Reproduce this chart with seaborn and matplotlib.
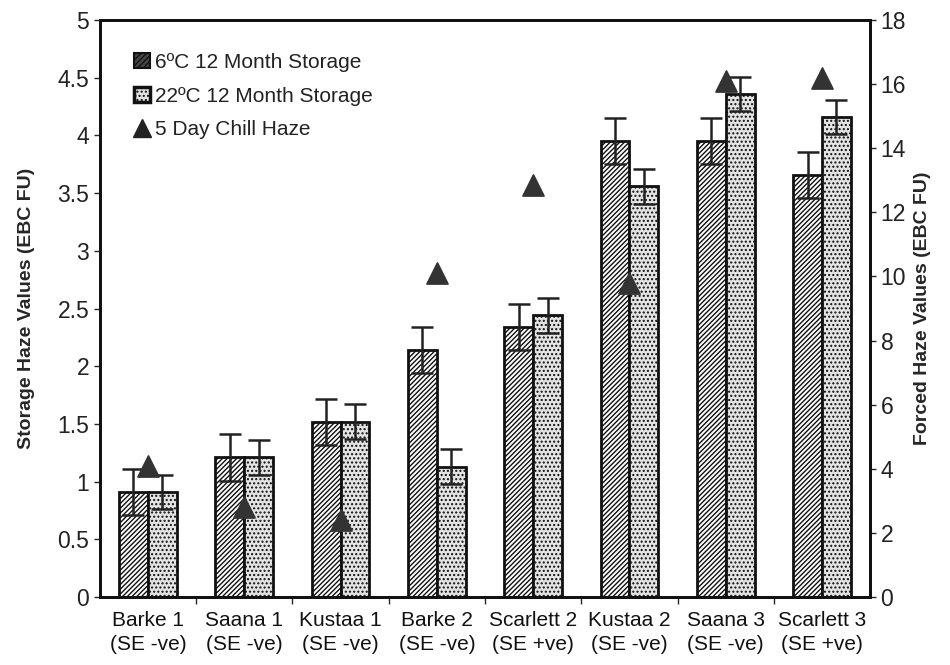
import matplotlib
matplotlib.use("Agg")
import matplotlib.pyplot as plt
import seaborn as sns
import pandas as pd
import numpy as np
from matplotlib.patches import Patch
from matplotlib.lines import Line2D

categories = ["Barke 1\n(SE -ve)", "Saana 1\n(SE -ve)", "Kustaa 1\n(SE -ve)", "Barke 2\n(SE -ve)",
              "Scarlett 2\n(SE +ve)", "Kustaa 2\n(SE -ve)", "Saana 3\n(SE -ve)", "Scarlett 3\n(SE +ve)"]
storage_6c = [0.91, 1.21, 1.52, 2.14, 2.34, 3.95, 3.95, 3.66]
storage_6c_err = [0.2, 0.2, 0.2, 0.2, 0.2, 0.2, 0.2, 0.2]
storage_22c = [0.91, 1.21, 1.52, 1.13, 2.44, 3.56, 4.36, 4.16]
storage_22c_err = [0.15, 0.15, 0.15, 0.15, 0.15, 0.15, 0.15, 0.15]
chill_haze = [4.1, 2.8, 2.4, 10.1, 12.85, 9.8, 16.1, 16.2]
series_names = ["6ºC 12 Month Storage", "22ºC 12 Month Storage"]
chill_name = "5 Day Chill Haze"

sns.set_theme(style="white")
plt.rcParams['font.family'] = ['Liberation Sans', 'DejaVu Sans']
plt.rcParams['hatch.linewidth'] = 1.0

df = pd.DataFrame({
    "cat": categories * 2,
    "val": storage_6c + storage_22c,
    "series": [series_names[0]] * len(categories) + [series_names[1]] * len(categories),
})

fig = plt.figure(figsize=(9.5, 6.65), dpi=100)
ax = fig.add_axes([0.105, 0.102, 0.811, 0.868])

sns.barplot(data=df, x="cat", y="val", hue="series", order=categories, hue_order=series_names,
            width=0.6, errorbar=None, ax=ax, legend=False)

face = ["white", "#e4e4e4"]
hatches = ["///////", "...."]
errs = [storage_6c_err, storage_22c_err]
vals = [storage_6c, storage_22c]
bar_conts = list(ax.containers)
for i, cont in enumerate(bar_conts):
    xs = []
    for p in cont.patches:
        p.set_facecolor(face[i])
        p.set_edgecolor("#111111")
        p.set_hatch(hatches[i])
        p.set_linewidth(2.0)
        xs.append(p.get_x() + p.get_width() / 2)
    ax.errorbar(xs, vals[i], yerr=errs[i], fmt="none", ecolor="#222222",
                elinewidth=1.8, capsize=8, capthick=1.8, zorder=5)

ax.set_ylim(0, 5)
ax.set_xlim(-0.5, len(categories) - 0.5)
ax.set_yticks(np.arange(0, 5.01, 0.5))
ax.set_yticklabels(["0", "0.5", "1", "1.5", "2", "2.5", "3", "3.5", "4", "4.5", "5"])
ax.set_xticks(range(len(categories)))
ax.set_xticklabels(categories, fontsize=15, linespacing=1.35)
ax.set_xlabel("")
ax.set_ylabel("Storage Haze Values (EBC FU)", fontsize=14, fontweight="bold", labelpad=16)
ax.tick_params(axis="y", labelsize=16.5, length=4, direction="out", left=True, width=1,
               labelcolor="#222222")
ax.tick_params(axis="x", length=0, pad=10, labelcolor="#111111")
ax.set_xticks(np.arange(0.5, len(categories) - 0.5, 1), minor=True)
ax.tick_params(axis="x", which="minor", length=5, direction="out", bottom=True, width=1)
for s in ax.spines.values():
    s.set_visible(True)
    s.set_color("#111111")
    s.set_linewidth(2)

ax2 = ax.twinx()
x_pos = np.arange(len(categories))
sns.scatterplot(x=x_pos, y=chill_haze, marker="^", s=230, color="#333333",
                edgecolor="#333333", ax=ax2, zorder=6, legend=False)
ax2.set_ylim(0, 18)
ax2.set_yticks(np.arange(0, 18.1, 2))
ax2.tick_params(axis="y", labelsize=16.5, length=4, direction="out", right=True, width=1,
                labelcolor="#222222")
ax2.set_ylabel("Forced Haze Values (EBC FU)", fontsize=14, fontweight="bold", labelpad=6)
for s in ax2.spines.values():
    s.set_color("#111111")
    s.set_linewidth(2)

handles = [
    Patch(facecolor="#444444", edgecolor="#111111", hatch="//////", linewidth=1.5),
    Patch(facecolor="#e4e4e4", edgecolor="#111111", hatch="....", linewidth=2.5),
    Line2D([0], [0], marker="^", linestyle="none", color="#222222", markersize=13),
]
leg = ax2.legend(handles, [series_names[0], series_names[1], chill_name], loc="upper left",
                 bbox_to_anchor=(0.02, 0.975), frameon=False, fontsize=15,
                 handlelength=0.75, handleheight=0.75, handletextpad=0.25, labelspacing=0.7)
for t in leg.get_texts():
    t.set_color("#222222")

fig.savefig("out.png", dpi=100)
